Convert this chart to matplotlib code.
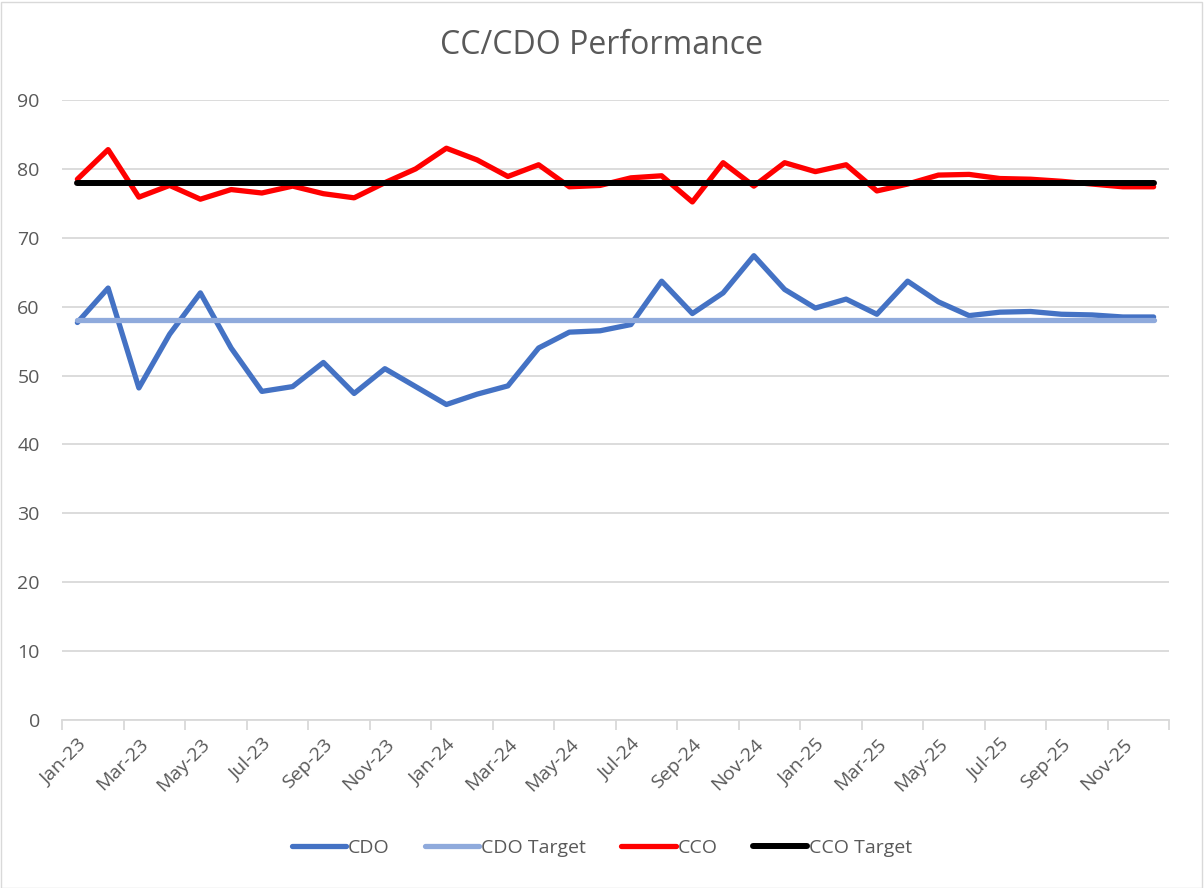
import matplotlib
matplotlib.use("Agg")
import matplotlib.pyplot as plt
from matplotlib.patches import Rectangle
import numpy as np

months = ["Jan-23","Feb-23","Mar-23","Apr-23","May-23","Jun-23","Jul-23","Aug-23","Sep-23","Oct-23","Nov-23","Dec-23",
          "Jan-24","Feb-24","Mar-24","Apr-24","May-24","Jun-24","Jul-24","Aug-24","Sep-24","Oct-24","Nov-24","Dec-24",
          "Jan-25","Feb-25","Mar-25","Apr-25","May-25","Jun-25","Jul-25","Aug-25","Sep-25","Oct-25","Nov-25","Dec-25"]

cdo = [57.7, 62.7, 48.2, 56.0, 62.0, 54.0, 47.7, 48.4, 51.9, 47.4, 51.0, 48.4,
       45.8, 47.3, 48.5, 54.0, 56.3, 56.5, 57.4, 63.7, 59.0, 62.0, 67.4, 62.5,
       59.8, 61.1, 58.9, 63.7, 60.7, 58.7, 59.2, 59.3, 58.9, 58.8, 58.5, 58.5]
cdo_target = [58.0] * 36
cco = [78.5, 82.8, 75.9, 77.6, 75.6, 77.0, 76.5, 77.5, 76.4, 75.8, 78.0, 80.0,
       83.0, 81.3, 78.9, 80.6, 77.4, 77.6, 78.7, 79.0, 75.2, 80.9, 77.5, 80.9,
       79.6, 80.6, 76.8, 77.8, 79.1, 79.2, 78.6, 78.5, 78.2, 77.8, 77.4, 77.4]
cco_target = [78.0] * 36

yticks = [0, 10, 20, 30, 40, 50, 60, 70, 80, 90]

fig = plt.figure(figsize=(12.04, 8.88), dpi=100)
ax = fig.add_axes([62/1204, 168/888, (1169-62)/1204, (720-100)/888])

x = np.arange(len(months))
gray = "#595959"
ax.plot(x, cdo, color="#4472C4", lw=3.8, solid_capstyle="round", solid_joinstyle="round", label="CDO", zorder=3)
ax.plot(x, cdo_target, color="#8FAADC", lw=3.8, solid_capstyle="round", label="CDO Target", zorder=4)
ax.plot(x, cco, color="#FF0000", lw=3.8, solid_capstyle="round", solid_joinstyle="round", label="CCO", zorder=5)
ax.plot(x, cco_target, color="#000000", lw=4.3, solid_capstyle="round", label="CCO Target", zorder=6)

ax.set_xlim(-0.5, len(months) - 0.5)
ax.set_ylim(0, 90)
ax.set_yticks(yticks)
ax.yaxis.grid(True, color="#D9D9D9", lw=1.3)
ax.set_axisbelow(True)
for s in ["top", "right", "left"]:
    ax.spines[s].set_visible(False)
ax.spines["bottom"].set_color("#D9D9D9")
ax.spines["bottom"].set_linewidth(1.3)
ax.tick_params(axis="y", length=0, labelsize=14, labelcolor=gray, pad=16)

# major ticks at category boundaries (no labels), minor ticks at label positions
ax.set_xticks(np.arange(-0.5, len(months), 2))
ax.set_xticklabels([])
ax.tick_params(axis="x", which="major", length=7, color="#D9D9D9", width=1.3)
ax.set_xticks(x[::2], minor=True)
ax.set_xticklabels(months[::2], minor=True, rotation=45, ha="right", rotation_mode="anchor")
ax.tick_params(axis="x", which="minor", length=0, labelsize=14, labelcolor=gray, pad=11)
for lbl in ax.get_xticklabels(minor=True):
    lbl.set_fontfamily("Open Sans")
for lbl in ax.get_yticklabels():
    lbl.set_fontfamily("Open Sans")
    lbl.set_ha("right")

fig.text(0.5, 1 - 45/888, "CC/CDO Performance", ha="center", va="center", fontsize=23,
         color=gray, family="Open Sans")

leg = fig.legend(loc="center", bbox_to_anchor=(0.5, 1 - 848/888), ncol=4, frameon=False,
                 prop={"family": "Open Sans", "size": 14}, handlelength=2.8, handletextpad=0.1,
                 columnspacing=1.8)
for t in leg.get_texts():
    t.set_color(gray)

fig.patches.append(Rectangle((0.5/1204, 0.5/888), 1 - 3/1204, 1 - 3/888, transform=fig.transFigure,
                             fill=False, edgecolor="#D9D9D9", lw=1))

fig.savefig("out.png", dpi=100, facecolor="white")
